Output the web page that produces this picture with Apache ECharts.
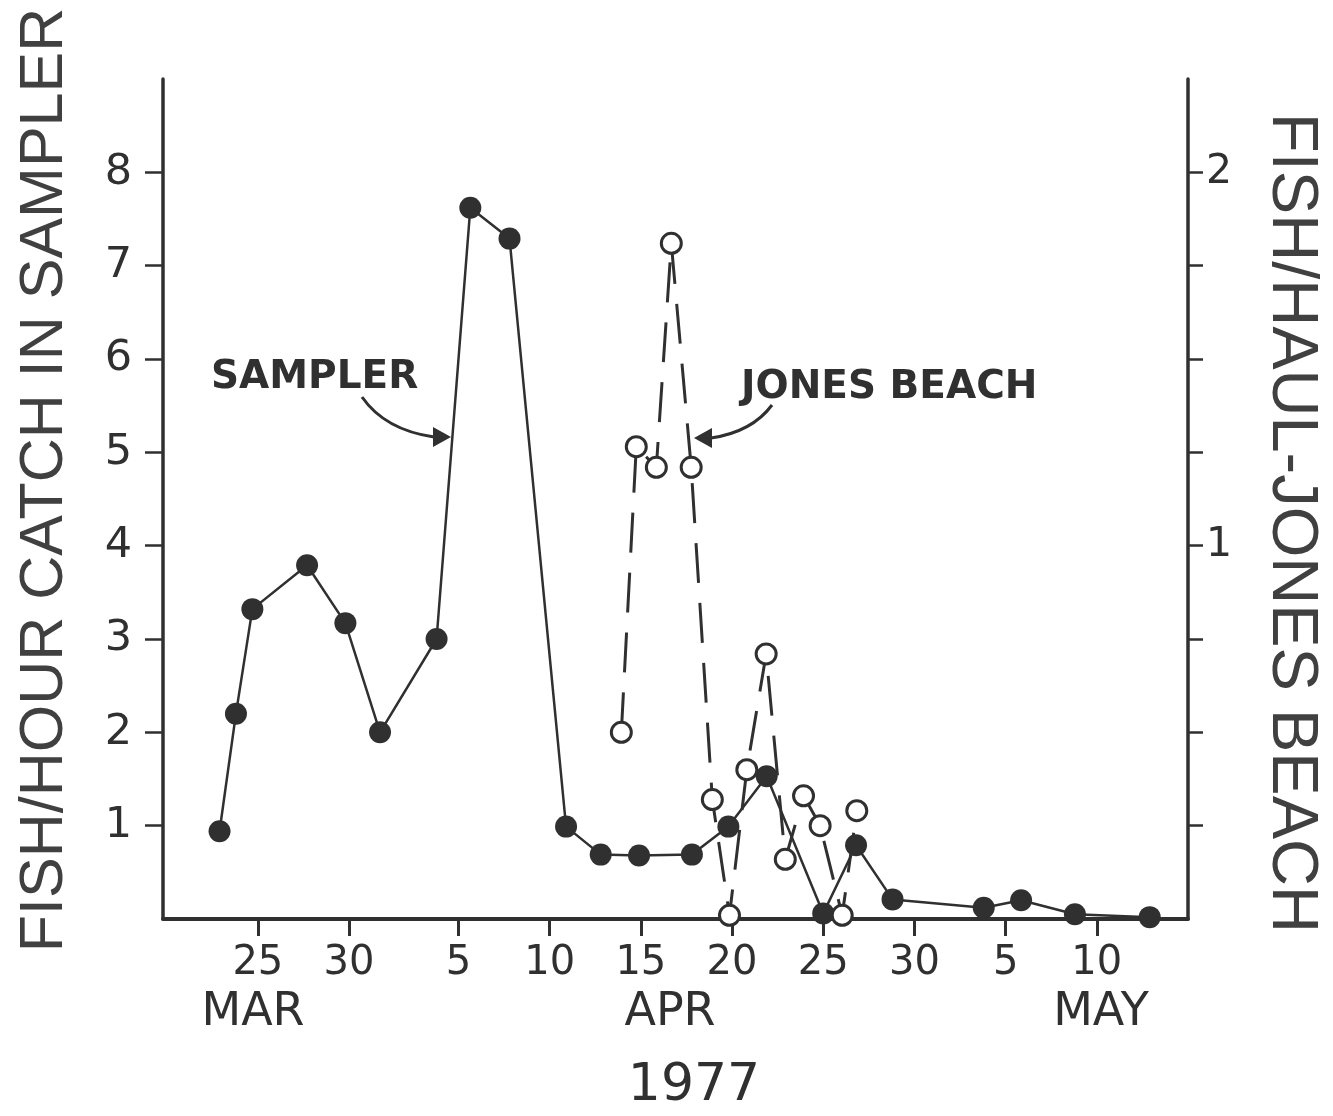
<!DOCTYPE html>
<html>
<head>
<meta charset="utf-8">
<script src="https://cdn.jsdelivr.net/npm/echarts@6/dist/echarts.min.js"></script>
<style>
html,body{margin:0;padding:0;background:#ffffff;}
#chart{width:1333px;height:1116px;}
</style>
</head>
<body>
<div id="chart"></div>
<script>
// Day index: days counted from March 1 (Mar 25 = 25, Apr 1 = 32, May 1 = 62)
const samplerDays   = [22.9, 23.8, 24.7, 27.7, 29.8, 31.7, 34.8, 36.65, 38.8, 41.9, 43.8, 45.9, 48.8, 50.8, 52.9, 56.0, 57.8, 59.8, 64.8, 66.85, 69.8, 73.9];
const samplerValues = [0.94, 2.20, 3.32, 3.79, 3.17, 2.00, 3.00, 7.62, 7.29, 0.99, 0.69, 0.68, 0.69, 0.99, 1.53, 0.06, 0.79, 0.21, 0.12, 0.20, 0.05, 0.02];

const jonesDays   = [44.93, 45.75, 46.85, 47.67, 48.76, 49.92, 50.86, 51.81, 52.87, 53.92, 54.92, 55.83, 57.04, 57.84];
const jonesValues = [0.50, 1.265, 1.21, 1.81, 1.21, 0.32, 0.01, 0.40, 0.71, 0.16, 0.33, 0.25, 0.01, 0.29];

const xTickDays   = [25, 30, 36, 41, 46, 51, 56, 61, 66, 71];
const leftTicks   = [1, 2, 3, 4, 5, 6, 7, 8];
const rightTicks  = [0.25, 0.5, 0.75, 1, 1.25, 1.5, 1.75, 2];
const rightLabels = [1, 2];
const monthLabels = ['MAR', 'APR', 'MAY'];
const yearLabel   = '1977';
const leftTitle   = 'FISH/HOUR CATCH IN SAMPLER';
const rightTitle  = 'FISH/HAUL-JONES BEACH';

const INK = '#303030';

function dayOfMonth(v) {
  if (v <= 31) return v;
  if (v <= 61) return v - 31;
  return v - 61;
}

const chart = echarts.init(document.getElementById('chart'), null, {renderer: 'canvas'});

const option = {
  backgroundColor: '#ffffff',
  animation: false,
  grid: {left: 163, right: 145, top: 79, bottom: 197, containLabel: false},
  xAxis: {
    type: 'value', min: 19.8, max: 76,
    axisLine: {show: true, onZero: false, lineStyle: {color: INK, width: 4}},
    axisTick: {show: true, inside: false, length: 17, customValues: xTickDays, lineStyle: {color: INK, width: 3}},
    axisLabel: {show: true, customValues: xTickDays, margin: 25, color: INK, fontFamily: 'DejaVu Sans', fontSize: 40,
      formatter: function (v) { return String(dayOfMonth(v)); }},
    splitLine: {show: false}
  },
  yAxis: [
    {
      type: 'value', min: 0, max: 9, position: 'left',
      axisLine: {show: true, lineStyle: {color: INK, width: 3.5}},
      axisTick: {show: true, length: 18, customValues: leftTicks, lineStyle: {color: INK, width: 2.5}},
      axisLabel: {show: true, customValues: leftTicks, margin: 31, color: INK, fontFamily: 'DejaVu Sans', fontSize: 43},
      splitLine: {show: false}
    },
    {
      type: 'value', min: 0, max: 2.25, position: 'right', alignTicks: false,
      axisLine: {show: true, lineStyle: {color: INK, width: 3.5}},
      axisTick: {show: true, length: 15, customValues: rightTicks, lineStyle: {color: INK, width: 2.5}},
      axisLabel: {show: true, customValues: rightLabels, margin: 18, color: INK, fontFamily: 'DejaVu Sans', fontSize: 41},
      splitLine: {show: false}
    }
  ],
  series: [
    {
      name: 'SAMPLER', type: 'line', yAxisIndex: 0, z: 3,
      data: samplerDays.map((d, i) => [d, samplerValues[i]]),
      symbol: 'circle', symbolSize: 22,
      itemStyle: {color: INK},
      lineStyle: {color: INK, width: 2.5}
    },
    {
      name: 'JONES BEACH', type: 'line', yAxisIndex: 1, z: 4,
      data: jonesDays.map((d, i) => [d, jonesValues[i]]),
      symbol: 'circle', symbolSize: 20,
      itemStyle: {color: '#ffffff', borderColor: INK, borderWidth: 3},
      lineStyle: {color: INK, width: 3, type: [40, 20]}
    }
  ],
  graphic: [
    {type: 'text', x: 45, y: 480, rotation: Math.PI / 2,
      style: {text: leftTitle, fill: '#404040', fontFamily: 'Liberation Sans', fontSize: 61, align: 'center', verticalAlign: 'middle'}},
    {type: 'text', x: 1291, y: 523, rotation: -Math.PI / 2,
      style: {text: rightTitle, fill: '#404040', fontFamily: 'Liberation Sans', fontSize: 65, align: 'center', verticalAlign: 'middle'}},
    {type: 'text', x: 253, y: 1013,
      style: {text: monthLabels[0], fill: INK, fontFamily: 'DejaVu Sans', fontSize: 46, align: 'center', verticalAlign: 'middle'}},
    {type: 'text', x: 670, y: 1013,
      style: {text: monthLabels[1], fill: INK, fontFamily: 'DejaVu Sans', fontSize: 46, align: 'center', verticalAlign: 'middle'}},
    {type: 'text', x: 1101, y: 1013,
      style: {text: monthLabels[2], fill: INK, fontFamily: 'DejaVu Sans', fontSize: 46, align: 'center', verticalAlign: 'middle'}},
    {type: 'text', x: 694, y: 1086,
      style: {text: yearLabel, fill: INK, fontFamily: 'DejaVu Sans', fontSize: 52, align: 'center', verticalAlign: 'middle'}},
    // annotations
    {type: 'text', x: 211, y: 378,
      style: {text: 'SAMPLER', fill: INK, fontFamily: 'DejaVu Sans', fontWeight: 'bold', fontSize: 39, align: 'left', verticalAlign: 'middle'}},
    {type: 'bezierCurve', shape: {x1: 362, y1: 397, x2: 434, y2: 437, cpx1: 385, cpy1: 430},
      style: {stroke: INK, lineWidth: 3, fill: null}},
    {type: 'polygon', shape: {points: [[451, 437], [433, 427], [433, 447]]}, style: {fill: INK}},
    {type: 'text', x: 741, y: 388,
      style: {text: 'JONES BEACH', fill: INK, fontFamily: 'DejaVu Sans', fontWeight: 'bold', fontSize: 39, align: 'left', verticalAlign: 'middle'}},
    {type: 'bezierCurve', shape: {x1: 772, y1: 405, x2: 711, y2: 438, cpx1: 752, cpy1: 432},
      style: {stroke: INK, lineWidth: 3, fill: null}},
    {type: 'polygon', shape: {points: [[694, 438], [712, 428], [712, 448]]}, style: {fill: INK}}
  ]
};

chart.setOption(option);
</script>
</body>
</html>
